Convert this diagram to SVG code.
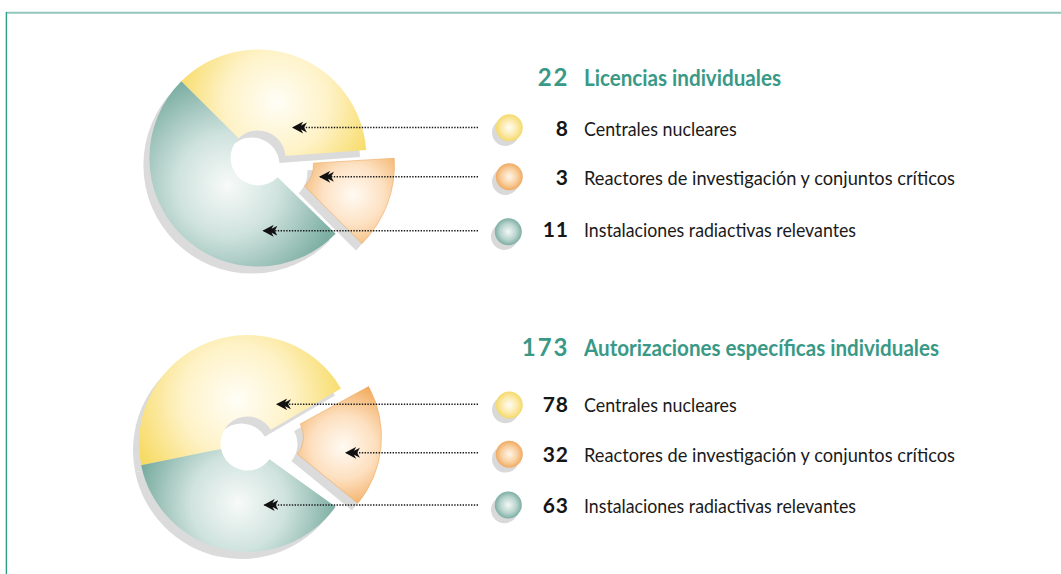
<svg xmlns="http://www.w3.org/2000/svg" width="1061" height="574" viewBox="0 0 1061 574">
<defs>
<style>
.shadow{fill:#dbdbdb}
.lead{fill:none;stroke:#1a1a1a;stroke-width:1.6;stroke-dasharray:1.4 1.4;marker-end:url(#arr)}
.num{font-family:Lato,"Open Sans","Liberation Sans",sans-serif;font-weight:700;font-size:21px;fill:#161616;text-anchor:end;letter-spacing:1px}
.lbl{font-family:Lato,"Open Sans","Liberation Sans",sans-serif;font-weight:400;font-size:20px;fill:#1a1a1a}
.tnum{font-family:Lato,"Open Sans","Liberation Sans",sans-serif;font-weight:700;font-size:24px;fill:#3a9986;text-anchor:end;letter-spacing:2px}
.ttl{font-family:Lato,"Open Sans","Liberation Sans",sans-serif;font-weight:700;font-size:23px;fill:#3a9986}
.dotsh{fill:#d9d9d9}
</style>
<radialGradient id="gYT" gradientUnits="userSpaceOnUse" cx="277" cy="102" r="105">
<stop offset="0" stop-color="#fffef7"/><stop offset="0.5" stop-color="#fef2c6"/><stop offset="1" stop-color="#f7da62"/>
</radialGradient>
<radialGradient id="gTT" gradientUnits="userSpaceOnUse" cx="228" cy="185" r="112">
<stop offset="0" stop-color="#f7faf9"/><stop offset="0.45" stop-color="#d0e3de"/><stop offset="1" stop-color="#7caea3"/>
</radialGradient>
<radialGradient id="gOT" gradientUnits="userSpaceOnUse" cx="353" cy="195" r="60">
<stop offset="0" stop-color="#fffaf3"/><stop offset="0.5" stop-color="#fde2c4"/><stop offset="1" stop-color="#f3b268"/>
</radialGradient>
<radialGradient id="gYB" gradientUnits="userSpaceOnUse" cx="237" cy="400" r="112">
<stop offset="0" stop-color="#fffef7"/><stop offset="0.5" stop-color="#fef2c6"/><stop offset="1" stop-color="#f7da62"/>
</radialGradient>
<radialGradient id="gTB" gradientUnits="userSpaceOnUse" cx="238" cy="503" r="105">
<stop offset="0" stop-color="#f7faf9"/><stop offset="0.45" stop-color="#d0e3de"/><stop offset="1" stop-color="#72a89a"/>
</radialGradient>
<radialGradient id="gOB" gradientUnits="userSpaceOnUse" cx="343" cy="447" r="64">
<stop offset="0" stop-color="#fffaf3"/><stop offset="0.5" stop-color="#fde0c0"/><stop offset="1" stop-color="#f2ab5e"/>
</radialGradient>
<radialGradient id="dY" cx="0.5" cy="0.5" r="0.5">
<stop offset="0" stop-color="#fffdf5"/><stop offset="0.6" stop-color="#fbe9a8"/><stop offset="1" stop-color="#f5d96b"/>
</radialGradient>
<radialGradient id="dO" cx="0.5" cy="0.5" r="0.5">
<stop offset="0" stop-color="#fff6ec"/><stop offset="0.6" stop-color="#f9cf9e"/><stop offset="1" stop-color="#f0aa62"/>
</radialGradient>
<radialGradient id="dT" cx="0.5" cy="0.5" r="0.5">
<stop offset="0" stop-color="#f3f8f6"/><stop offset="0.6" stop-color="#b9d4cd"/><stop offset="1" stop-color="#7caea3"/>
</radialGradient>
<marker id="arr" viewBox="0 0 14 11" refX="13" refY="5.5" markerWidth="15" markerHeight="12" markerUnits="userSpaceOnUse" orient="auto">
<path d="M14,5.5 L3.5,0 L6.5,5.5 L3.5,11 Z M9,5.5 L0,0.8 L2.6,5.5 L0,10.2 Z" fill="#111"/>
</marker>
</defs>

<rect x="0" y="0" width="1061" height="574" fill="#ffffff"/>
<g id="frame">
<line x1="6" y1="12.8" x2="1061" y2="12.8" stroke="#93c6be" stroke-width="2"/>
<line x1="6.4" y1="12" x2="6.4" y2="574" stroke="#2f9c87" stroke-width="1.4"/>
</g>

<g id="pie-licencias">
<g transform="translate(-6,7)" class="shadow">
<path d="M181.28,81.28 A108.5,108.5 0 0 1 366.21,150.05 L285.43,155.99 A27.5,27.5 0 0 0 238.55,138.55 Z"/>
<path d="M335.65,233.78 A108.5,108.5 0 1 1 181.28,81.28 L238.55,138.55 A27.5,27.5 0 1 0 277.68,177.21 Z"/>
<path d="M394.29,158.22 A111,111 0 0 1 361.99,243.49 L304.71,186.21 A30,30 0 0 0 313.44,163.17 Z"/>
</g>
<path id="slice-t-centrales" d="M181.28,81.28 A108.5,108.5 0 0 1 366.21,150.05 L285.43,155.99 A27.5,27.5 0 0 0 238.55,138.55 Z" fill="url(#gYT)"/>
<path id="slice-t-instalaciones" d="M335.65,233.78 A108.5,108.5 0 1 1 181.28,81.28 L238.55,138.55 A27.5,27.5 0 1 0 277.68,177.21 Z" fill="url(#gTT)"/>
<path id="slice-t-reactores" d="M394.29,158.22 A111,111 0 0 1 361.99,243.49 L304.71,186.21 A30,30 0 0 0 313.44,163.17 Z" fill="url(#gOT)" stroke="#efaa62" stroke-width="0.6"/>
</g>

<g id="pie-autorizaciones">
<g transform="translate(-6,7)" class="shadow">
<path d="M141.18,465.13 A108.5,108.5 0 0 1 340.99,388.43 L270.76,429.80 A27,27 0 0 0 221.04,448.88 Z"/>
<path d="M335.61,506.81 A108.5,108.5 0 0 1 141.18,465.13 L221.04,448.88 A27,27 0 0 0 269.43,459.26 Z"/>
<path d="M368.60,386.58 A105,105 0 0 1 357.87,503.36 L297.42,454.06 A27,27 0 0 0 300.18,424.03 Z"/>
</g>
<path id="slice-b-centrales" d="M141.18,465.13 A108.5,108.5 0 0 1 340.99,388.43 L270.76,429.80 A27,27 0 0 0 221.04,448.88 Z" fill="url(#gYB)"/>
<path id="slice-b-instalaciones" d="M335.61,506.81 A108.5,108.5 0 0 1 141.18,465.13 L221.04,448.88 A27,27 0 0 0 269.43,459.26 Z" fill="url(#gTB)"/>
<path id="slice-b-reactores" d="M368.60,386.58 A105,105 0 0 1 357.87,503.36 L297.42,454.06 A27,27 0 0 0 300.18,424.03 Z" fill="url(#gOB)" stroke="#efaa62" stroke-width="0.6"/>
</g>

<g id="connectors">
<path class="lead" d="M478,127.5 H293"/>
<path class="lead" d="M478,176.8 H320"/>
<path class="lead" d="M478,230.8 H263.5"/>
<path class="lead" d="M478,404.3 H277"/>
<path class="lead" d="M478,452.8 H346"/>
<path class="lead" d="M478,505 H264.5"/>
</g>

<g id="title-licencias">
<text class="tnum" x="569.5" y="85.7">22</text>
<text class="ttl" x="584" y="85.7" textLength="197" lengthAdjust="spacingAndGlyphs">Licencias individuales</text>
</g>
<g id="legend-t-centrales">
<circle class="dotsh" cx="505.5" cy="132.5" r="13.5"/>
<circle cx="509.3" cy="127.7" r="13.5" fill="url(#dY)"/>
<text class="num" x="569" y="136">8</text>
<text class="lbl" x="584" y="136" textLength="152.7" lengthAdjust="spacingAndGlyphs">Centrales nucleares</text>
</g>
<g id="legend-t-reactores">
<circle class="dotsh" cx="505.5" cy="181.5" r="13.5"/>
<circle cx="509.3" cy="176.7" r="13.5" fill="url(#dO)"/>
<text class="num" x="569" y="185">3</text>
<text class="lbl" x="584" y="185" textLength="371" lengthAdjust="spacingAndGlyphs">Reactores de investigación y conjuntos críticos</text>
</g>
<g id="legend-t-instalaciones">
<circle class="dotsh" cx="504.5" cy="236.5" r="13.5"/>
<circle cx="508.3" cy="231.7" r="13.5" fill="url(#dT)"/>
<text class="num" x="569" y="236.7">11</text>
<text class="lbl" x="584" y="236.7" textLength="272" lengthAdjust="spacingAndGlyphs">Instalaciones radiactivas relevantes</text>
</g>

<g id="title-autorizaciones">
<text class="tnum" x="569.5" y="355.7">173</text>
<text class="ttl" x="584" y="355.7" textLength="355" lengthAdjust="spacingAndGlyphs">Autorizaciones específicas individuales</text>
</g>
<g id="legend-b-centrales">
<circle class="dotsh" cx="505.5" cy="409.8" r="13.5"/>
<circle cx="509.3" cy="405" r="13.5" fill="url(#dY)"/>
<text class="num" x="569" y="412.3">78</text>
<text class="lbl" x="584" y="412.3" textLength="152.7" lengthAdjust="spacingAndGlyphs">Centrales nucleares</text>
</g>
<g id="legend-b-reactores">
<circle class="dotsh" cx="505.5" cy="459.1" r="13.5"/>
<circle cx="509.3" cy="454.3" r="13.5" fill="url(#dO)"/>
<text class="num" x="569" y="461.7">32</text>
<text class="lbl" x="584" y="461.7" textLength="371" lengthAdjust="spacingAndGlyphs">Reactores de investigación y conjuntos críticos</text>
</g>
<g id="legend-b-instalaciones">
<circle class="dotsh" cx="504.5" cy="509.8" r="13.5"/>
<circle cx="508.3" cy="505" r="13.5" fill="url(#dT)"/>
<text class="num" x="569" y="512.7">63</text>
<text class="lbl" x="584" y="512.7" textLength="272" lengthAdjust="spacingAndGlyphs">Instalaciones radiactivas relevantes</text>
</g>
</svg>
